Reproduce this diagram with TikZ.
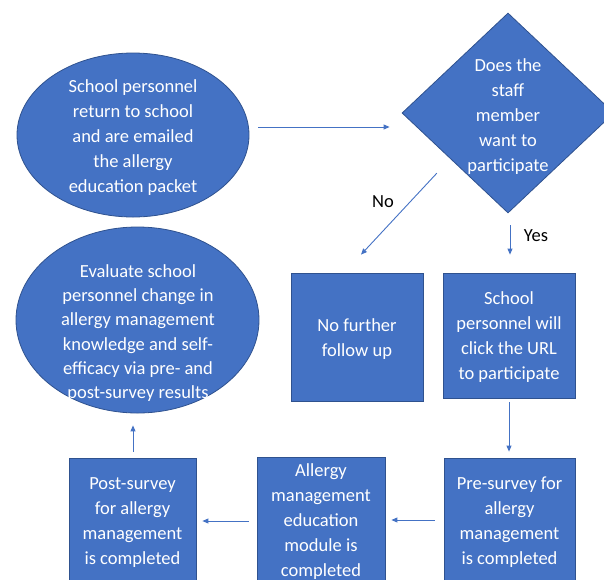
\documentclass[tikz,border=0pt]{standalone}
\usepackage{fontspec}
\setmainfont{Carlito}
\usetikzlibrary{shapes.geometric,arrows.meta}
\definecolor{boxblue}{HTML}{4472C4}
\definecolor{edgeblue}{HTML}{2F528F}
\tikzset{
  shapebase/.style={fill=boxblue, draw=edgeblue, line width=0.8pt, inner sep=0pt},
  stepbox/.style={shapebase, rectangle},
  oval/.style={shapebase, ellipse},
  choice/.style={shapebase, diamond},
  boxtext/.style={text=white, align=center, inner sep=0pt, font=\fontsize{18.5}{25}\selectfont},
  tighttext/.style={boxtext, font=\fontsize{18.5}{24.2}\selectfont},
  arr/.style={draw=boxblue, line width=0.9pt, -{Triangle[length=6pt,width=5pt]}},
  lbl/.style={text=black, inner sep=0pt, font=\fontsize{18.5}{25}\selectfont}
}
\begin{document}
\begin{tikzpicture}[x=1pt,y=-1pt]
\useasboundingbox (0,0) rectangle (604,579);
\clip (0,0) rectangle (604,579);

% shapes
\node[oval, minimum width=232pt, minimum height=164pt] (start) at (133,135) {};
\node[oval, minimum width=243pt, minimum height=186pt] (eval) at (137.5,320) {};
\node[choice, minimum width=212pt, minimum height=200pt] (ask) at (508,113) {};
\node[stepbox, minimum width=132pt, minimum height=128pt] (stop) at (357,337) {};
\node[stepbox, minimum width=132pt, minimum height=125pt] (click) at (509,335.5) {};
\node[stepbox, minimum width=131pt, minimum height=125pt] (pre) at (509.5,520.5) {};
\node[stepbox, minimum width=128pt, minimum height=130pt] (module) at (321,522) {};
\node[stepbox, minimum width=127pt, minimum height=125pt] (post) at (132.5,520.5) {};

% texts inside the shapes
\node[boxtext] (starttext) at ([yshift=-3pt]start.center)
  {School personnel\\return to school\\and are emailed\\the allergy\\education packet};
\node[tighttext] (evaltext) at (138,333)
  {Evaluate school\\personnel change in\\allergy management\\knowledge and self-\\efficacy via pre- and\\post-survey results};
\node[boxtext] (asktext) at ([yshift=-3.5pt]ask.center)
  {Does the\\staff\\member\\want to\\participate};
\node[boxtext] (stoptext) at ([yshift=-2.5pt]stop.center) {No further\\follow up};
\node[boxtext] (clicktext) at ([yshift=-1.5pt]click.center)
  {School\\personnel will\\click the URL\\to participate};
\node[boxtext] (pretext) at ([yshift=-2pt]pre.center)
  {Pre-survey for\\allergy\\management\\is completed};
\node[boxtext] (moduletext) at ([yshift=0.5pt]module.center)
  {Allergy\\management\\education\\module is\\completed};
\node[boxtext] (posttext) at ([yshift=-2pt]post.center)
  {Post-survey\\for allergy\\management\\is completed};

% connectors
\draw[arr] ([xshift=9pt,yshift=8pt]start.east) -- ([xshift=-12pt,yshift=-14pt]ask.west);
\draw[arr] ([xshift=-18pt,yshift=-10pt]ask.south west) -- ([xshift=4pt,yshift=18pt]stop.north);
\draw[arr] ([xshift=2pt,yshift=-12pt]ask.south) -- ([xshift=1pt,yshift=18pt]click.north);
\draw[arr] ([yshift=-4pt]click.south) -- ([xshift=-0.5pt,yshift=6pt]pre.north);
\draw[arr] ([xshift=-9pt,yshift=0.5pt]pre.west) -- ([xshift=6pt,yshift=2pt]module.east);
\draw[arr] ([xshift=-8pt,yshift=1pt]module.west) -- ([xshift=6pt,yshift=-0.5pt]post.east);
\draw[arr] ([xshift=0.5pt,yshift=6pt]post.north) -- ([xshift=-4.5pt,yshift=-12pt]eval.south);

% branch labels
\node[lbl] (nolbl) at (383,202) {No};
\node[lbl] (yeslbl) at (536,236) {Yes};
\end{tikzpicture}
\end{document}
